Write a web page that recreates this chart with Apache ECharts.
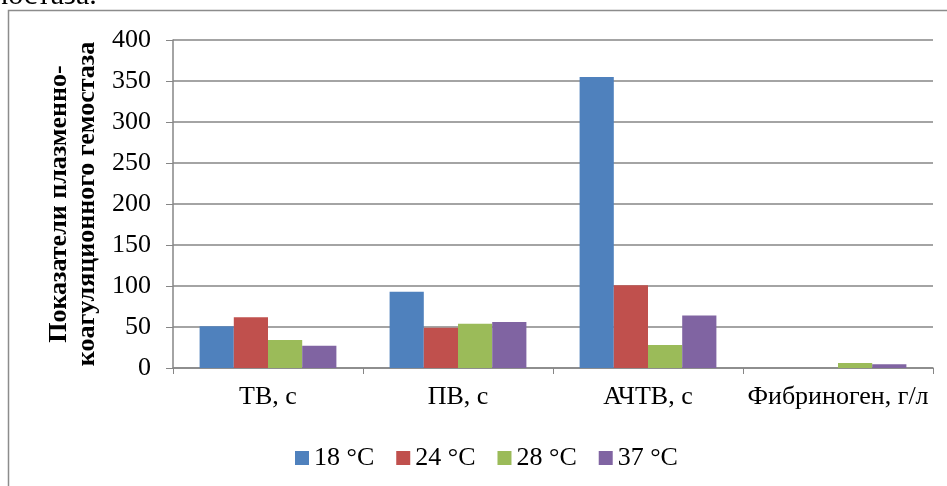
<!DOCTYPE html>
<html><head><meta charset="utf-8">
<script src="https://cdn.jsdelivr.net/npm/echarts@6/dist/echarts.min.js"></script>
<style>html,body{margin:0;padding:0;background:#fff}#c{width:947px;height:486px}</style>
</head><body><div id="c"></div>
<script>
const categories = ['ТВ, с', 'ПВ, с', 'АЧТВ, с', 'Фибриноген, г/л'];
const seriesNames = ['18 °C', '24 °C', '28 °C', '37 °C'];
const s18 = [51, 93, 355, 0];
const s24 = [62, 49, 101, 0];
const s28 = [34, 54, 28, 6];
const s37 = [27, 56, 64, 4.5];
const colors = ['#4F81BD', '#C0504D', '#9BBB59', '#8064A2'];
const yTitle = 'Показатели плазменно-\nкоагуляционного гемостаза';
const values = [s18, s24, s28, s37];
const font = '"Liberation Serif", "Times New Roman", serif';
const chart = echarts.init(document.getElementById('c'), null, {renderer: 'canvas'});
chart.setOption({
  animation: false,
  textStyle: {fontFamily: font},
  graphic: [
    {type: 'rect', shape: {x: 8.5, y: 10.5, width: 960, height: 500}, style: {fill: 'none', stroke: '#8c8c8c', lineWidth: 1.5}, z: -1},
    {type: 'text', left: -36, top: -19, style: {text: 'гемостаза.', font: '30px ' + font, fill: '#000'}}
  ],
  grid: {left: 173, right: 14, top: 40, bottom: 118, containLabel: false},
  legend: {
    top: 440, left: 290, itemWidth: 14, itemHeight: 14, itemGap: 22,
    icon: 'rect', textStyle: {fontSize: 26, fontFamily: font, color: '#000'},
    data: seriesNames
  },
  xAxis: {
    type: 'category', data: categories,
    axisLine: {lineStyle: {color: '#868686', width: 1.5}},
    axisTick: {show: true, length: 6, lineStyle: {color: '#868686'}},
    axisLabel: {fontSize: 26, color: '#000', fontFamily: font, margin: 16, interval: 0}
  },
  yAxis: {
    type: 'value', min: 0, max: 400, interval: 50,
    name: yTitle, nameLocation: 'middle', nameGap: 72, nameRotate: 90,
    nameTextStyle: {fontSize: 26, fontWeight: 'bold', color: '#000', fontFamily: font, lineHeight: 28},
    axisLine: {show: true, lineStyle: {color: '#868686', width: 1.5}},
    axisTick: {show: true, length: 7, inside: false, lineStyle: {color: '#868686'}},
    splitLine: {lineStyle: {color: '#868686', width: 1.5}},
    axisLabel: {fontSize: 26, color: '#000', fontFamily: font, margin: 22}
  },
  series: values.map((v, i) => ({
    name: seriesNames[i], type: 'bar', data: v,
    barGap: '0%', barCategoryGap: '28%',
    itemStyle: {color: colors[i]}
  }))
});
</script></body></html>
